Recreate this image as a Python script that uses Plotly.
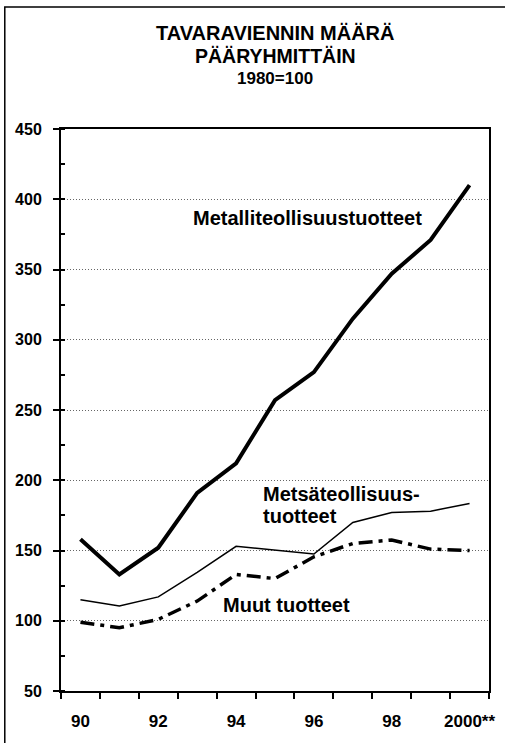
import plotly.graph_objects as go

years = list(range(1990, 2001))
tick_years = [1990, 1992, 1994, 1996, 1998, 2000]
tick_labels = ["90", "92", "94", "96", "98", "2000**"]
metalli = [158, 133, 152, 191, 212, 257, 277, 315, 347, 371, 410]
metsa = [115, 110.5, 117, 134.5, 153, 150, 147.5, 170, 177, 178, 183.5]
muut = [99, 95, 101, 114, 133, 130, 145.5, 155, 157.5, 151, 150]

FONT = "Liberation Sans, Arial, Helvetica, sans-serif"
W, H = 505, 743
L, R, T, B = 61, 495, 129, 691


def px(x):
    return (x - L) / (R - L)


def py(y):
    return (B - y) / (B - T)


fig = go.Figure()
fig.add_trace(go.Scatter(x=years, y=metsa, mode="lines",
                         line=dict(color="black", width=1.5), showlegend=False))
fig.add_trace(go.Scatter(x=years, y=muut, mode="lines",
                         line=dict(color="black", width=3.5, dash="14px,6px,4px,6px"),
                         showlegend=False))
fig.add_trace(go.Scatter(x=years, y=metalli, mode="lines",
                         line=dict(color="black", width=4), showlegend=False))

annotations = [
    dict(text="<b>TAVARAVIENNIN MÄÄRÄ</b>", x=px(278.5), y=py(33), size=20, xanchor="center"),
    dict(text="<b>PÄÄRYHMITTÄIN</b>", x=px(278.5), y=py(56), size=19.5, xanchor="center"),
    dict(text="<b>1980=100</b>", x=px(278.5), y=py(78.5), size=17, xanchor="center"),
    dict(text="<b>Metalliteollisuustuotteet</b>", x=px(310.5), y=py(218), size=20, xanchor="center"),
    dict(text="<b>Metsäteollisuus-</b>", x=px(265), y=py(493.7), size=20, xanchor="left"),
    dict(text="<b>tuotteet</b>", x=px(265), y=py(515.5), size=20, xanchor="left"),
    dict(text="<b>Muut tuotteet</b>", x=px(289.5), y=py(604.7), size=20, xanchor="center"),
]
for a in annotations:
    fig.add_annotation(text=a["text"], x=a["x"], y=a["y"], xref="paper", yref="paper",
                       xanchor=a["xanchor"], yanchor="middle", showarrow=False,
                       borderpad=0,
                       font=dict(family=FONT, size=a["size"], color="black"))

# outer frame (top and left edges visible in the reference)
fig.add_shape(type="rect", xref="paper", yref="paper",
              x0=px(4), x1=px(512), y0=py(752), y1=py(7),
              line=dict(color="black", width=1.5), fillcolor="rgba(0,0,0,0)")

fig.update_layout(
    width=W, height=H, autosize=False,
    margin=dict(l=L, r=W - R, t=T, b=H - B, pad=0),
    paper_bgcolor="white", plot_bgcolor="white",
    font=dict(family=FONT, color="black"),
    xaxis=dict(
        range=[1989.5, 2000.5],
        tickmode="array", tickvals=tick_years,
        ticktext=["<b>%s</b>" % t for t in tick_labels],
        ticks="", tickfont=dict(size=17, family=FONT, color="black"),
        minor=dict(tickmode="array",
                   tickvals=[y - 0.5 for y in years] + [years[-1] + 0.5],
                   ticks="outside", ticklen=6, tickwidth=1.5, tickcolor="black",
                   showgrid=False),
        showgrid=False, zeroline=False,
        showline=True, mirror=True, linecolor="black", linewidth=2,
        ticklabelstandoff=14,
    ),
    yaxis=dict(
        range=[50, 450],
        tickmode="array", tickvals=list(range(50, 451, 50)),
        ticktext=["<b>%d</b>" % v for v in range(50, 451, 50)],
        ticks="outside", ticklen=6, tickwidth=1.5, tickcolor="black",
        tickfont=dict(size=16, family=FONT, color="black"),
        minor=dict(dtick=25, tick0=50, ticks="inside", ticklen=4, tickwidth=1.5,
                   tickcolor="black", showgrid=False),
        showgrid=True, gridcolor="#666666", gridwidth=1, griddash="1px,2px",
        zeroline=False,
        showline=True, mirror=True, linecolor="black", linewidth=2,
        ticklabelstandoff=8,
    ),
)

fig.write_html("out.html", config={"displayModeBar": False},
               post_script="document.body.style.margin='0';document.body.style.overflow='hidden';")
